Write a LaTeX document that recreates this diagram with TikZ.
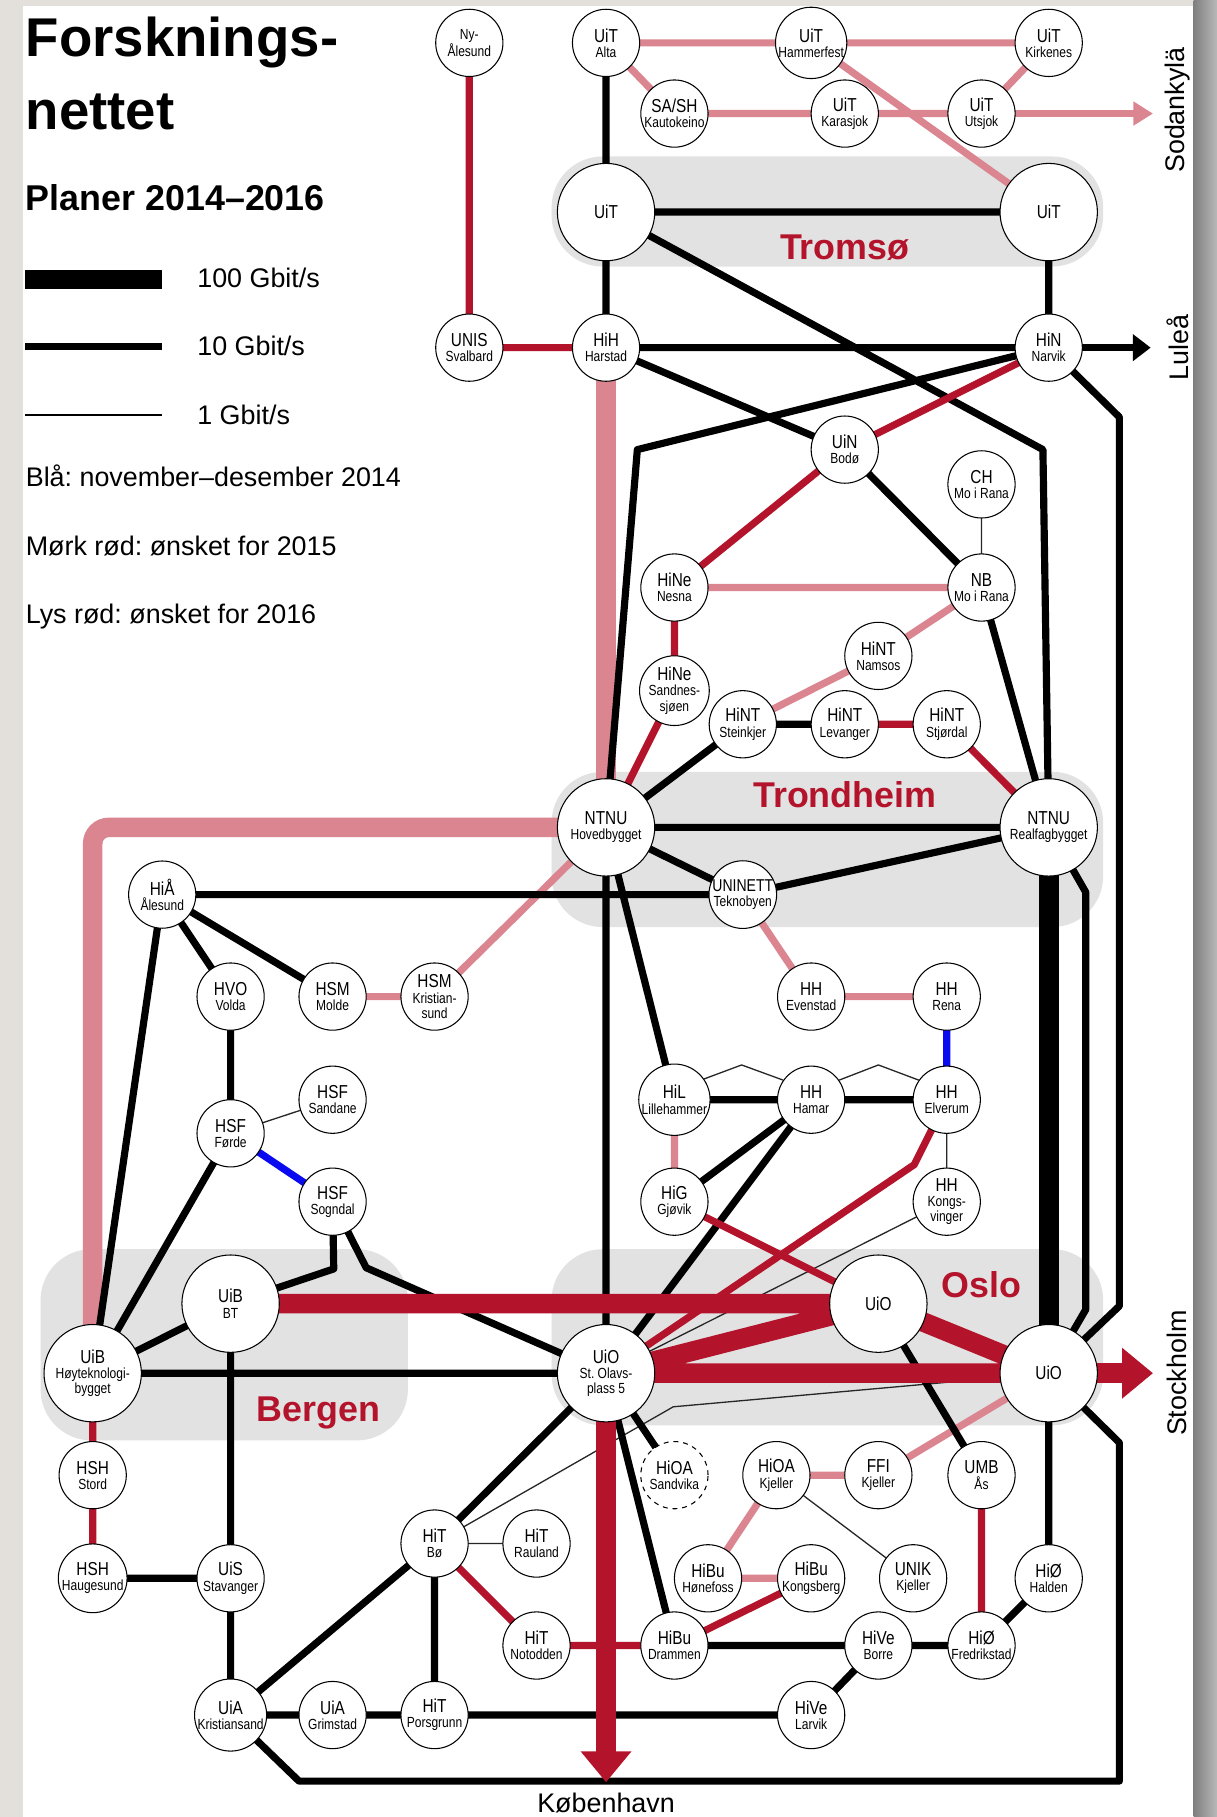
\documentclass[tikz,border=0pt]{standalone}
\usepackage{fontspec}
\setmainfont{Liberation Sans}
\newfontfamily\nodefont[FakeStretch=0.82]{Liberation Sans}
\usetikzlibrary{arrows.meta}
\definecolor{darkred}{HTML}{B4142B}
\definecolor{lightred}{HTML}{DB8590}
\definecolor{zone}{HTML}{E2E2E2}
\definecolor{netblue}{HTML}{0A0AF0}
\definecolor{margin}{HTML}{E3E0DC}
\newcommand{\lbl}[2]{{\fontsize{11.5}{11}\selectfont #1}\\#2}
\pgfdeclarelayer{zones}
\pgfdeclarelayer{links}
\pgfsetlayers{zones,links,main}
\frenchspacing

\begin{document}
\begin{tikzpicture}[x=0.025cm,y=-0.025cm,
  site/.style={circle,draw,line width=0.65pt,fill=white,minimum size=1.45cm,inner sep=0pt,
    align=center,font=\nodefont\fontsize{9}{9.3}\selectfont},
  hub/.style={site,minimum size=2.1cm},
  g100/.style={line width=12pt},
  g10/.style={line width=4.4pt,line join=round},
  g1/.style={line width=0.8pt,black!85},
  zonebox/.style={fill=zone,rounded corners=1.1cm},
  city/.style={anchor=base,text=darkred,font=\fontsize{22}{22}\selectfont\bfseries},
  legendtext/.style={anchor=base west,inner sep=0pt,font=\fontsize{16.5}{16.5}\selectfont},
  sidetext/.style={rotate=90,font=\fontsize{16.5}{16.5}\selectfont}]
  \useasboundingbox (0,0) rectangle (1050,1568);

  % page and city zones
  \begin{pgfonlayer}{zones}
    \fill[margin] (0,0) rectangle (1050,1568);
    \fill[white] (20,5) rectangle (1030,1568);
    \shade[left color=black!50,right color=black!28] (1030,0) rectangle (1050,1568);
    \fill[zonebox] (476,135) rectangle (952,230);
    \fill[zonebox] (476,666) rectangle (952,800);
    \fill[zonebox] (35,1078) rectangle (352,1243);
    \fill[zonebox] (476,1078) rectangle (952,1230);
  \end{pgfonlayer}

  % title and legend
  \node[anchor=base west,inner sep=0pt,font=\fontsize{33.5}{33.5}\selectfont\bfseries] (titleA) at (22,49) {Forsknings-};
  \node[anchor=base west,inner sep=0pt,font=\fontsize{33.5}{33.5}\selectfont\bfseries] (titleB) at (22,112) {nettet};
  \node[anchor=base west,inner sep=0pt,font=\fontsize{22}{22}\selectfont\bfseries] (plans) at (22,182) {Planer 2014--2016};
  \draw[g100] (22,241) -- (140,241);
  \draw[g10] (22,299) -- (140,299);
  \draw[g1,black] (22,358) -- (140,358);
  \node[legendtext] (l100) at (170,248) {100 Gbit/s};
  \node[legendtext] (l10) at (170,307) {10 Gbit/s};
  \node[legendtext] (l1) at (170,366) {1 Gbit/s};
  \node[legendtext] (lblue) at (22,420) {Blå: november--desember 2014};
  \node[legendtext] (ldark) at (22,479) {Mørk rød: ønsket for 2015};
  \node[legendtext] (llight) at (22,538) {Lys rød: ønsket for 2016};

  % city names and exits
  \node[city] (tromso) at (729,224) {Tromsø};
  \node[city] (trondheim) at (729,697) {Trondheim};
  \node[city] (bergen) at (275,1227) {Bergen};
  \node[city] (oslo) at (847,1120) {Oslo};
  \node[sidetext] (sodanlbl) at (1016,95) {Sodankylä};
  \node[sidetext] (lulealbl) at (1016,300) {Luleå};
  \node[sidetext] (sthlmlbl) at (1016,1185) {Stockholm};
  \node[font=\fontsize{16.5}{16.5}\selectfont] (kbhlbl) at (523,1556) {København};

  \coordinate (sodan) at (995,98);
  \coordinate (lulea) at (993,300);
  \coordinate (sthlm) at (995,1185);
  \coordinate (kbh) at (523,1538);
  \coordinate (bendA) at (900,388);
  \coordinate (bendB) at (550,388);
  \coordinate (bendC) at (966,360);
  \coordinate (bendD) at (966,1127);
  \coordinate (bendE) at (937,770);
  \coordinate (bendF) at (937,1130);
  \coordinate (bendG) at (288,1095);
  \coordinate (bendH) at (316,1094);
  \coordinate (bendI) at (966,1245);
  \coordinate (bendJ) at (966,1537);
  \coordinate (bendK) at (258,1537);
  \coordinate (bendL) at (789,1005);
  \coordinate (thinbend) at (581,1214);
  \coordinate (roofA) at (640,919);
  \coordinate (roofB) at (758,919);
  \coordinate (pinkturn) at (80,714);

  % sites
  \node[site] (nyal) at (405,37) {Ny-\\Ålesund};
  \node[site] (alta) at (523,37) {\lbl{UiT}{Alta}};
  \node[site] (hamf) at (700,37) {\lbl{UiT}{Hammerfest}};
  \node[site] (kirk) at (905,37) {\lbl{UiT}{Kirkenes}};
  \node[site] (kaut) at (582,98) {\lbl{SA/SH}{Kautokeino}};
  \node[site] (kara) at (729,98) {\lbl{UiT}{Karasjok}};
  \node[site] (utsj) at (847,98) {\lbl{UiT}{Utsjok}};
  \node[hub] (tromA) at (523,183) {\fontsize{11.5}{11}\selectfont UiT};
  \node[hub] (tromB) at (905,183) {\fontsize{11.5}{11}\selectfont UiT};
  \node[site] (unis) at (405,300) {\lbl{UNIS}{Svalbard}};
  \node[site] (harst) at (523,300) {\lbl{HiH}{Harstad}};
  \node[site] (narv) at (905,300) {\lbl{HiN}{Narvik}};
  \node[site] (bodo) at (729,388) {\lbl{UiN}{Bodø}};
  \node[site] (chmo) at (847,418) {\lbl{CH}{Mo i Rana}};
  \node[site] (nesna) at (582,507) {\lbl{HiNe}{Nesna}};
  \node[site] (nbmo) at (847,507) {\lbl{NB}{Mo i Rana}};
  \node[site] (nams) at (758,566) {\lbl{HiNT}{Namsos}};
  \node[site] (sand) at (582,596) {\lbl{HiNe}{Sandnes-\\sjøen}};
  \node[site] (stei) at (641,625) {\lbl{HiNT}{Steinkjer}};
  \node[site] (leva) at (729,625) {\lbl{HiNT}{Levanger}};
  \node[site] (stjo) at (817,625) {\lbl{HiNT}{Stjørdal}};
  \node[hub] (ntnuH) at (523,714) {\lbl{NTNU}{Hovedbygget}};
  \node[hub] (ntnuR) at (905,714) {\lbl{NTNU}{Realfagbygget}};
  \node[site] (unin) at (641,772) {{\fontsize{10.5}{10.5}\selectfont UNINETT}\\Teknobyen};
  \node[site] (hiaa) at (140,772) {\lbl{HiÅ}{Ålesund}};
  \node[site] (volda) at (199,860) {\lbl{HVO}{Volda}};
  \node[site] (molde) at (287,860) {\lbl{HSM}{Molde}};
  \node[site] (krsu) at (375,860) {\lbl{HSM}{Kristian-\\sund}};
  \node[site] (even) at (700,860) {\lbl{HH}{Evenstad}};
  \node[site] (rena) at (817,860) {\lbl{HH}{Rena}};
  \node[site] (sdne) at (287,949) {\lbl{HSF}{Sandane}};
  \node[site] (forde) at (199,978) {\lbl{HSF}{Førde}};
  \node[site] (lilh) at (582,949) {\lbl{HiL}{Lillehammer}};
  \node[site] (hamar) at (700,949) {\lbl{HH}{Hamar}};
  \node[site] (elve) at (817,949) {\lbl{HH}{Elverum}};
  \node[site] (sogn) at (287,1037) {\lbl{HSF}{Sogndal}};
  \node[site] (gjov) at (582,1037) {\lbl{HiG}{Gjøvik}};
  \node[site] (kong) at (817,1037) {\lbl{HH}{Kongs-\\vinger}};
  \node[hub] (uibBT) at (199,1125) {\lbl{UiB}{BT}};
  \node[hub] (uioC) at (758,1125) {\fontsize{11.5}{11}\selectfont UiO};
  \node[hub] (uibH) at (80,1185) {\lbl{UiB}{Høyteknologi-\\bygget}};
  \node[hub] (uioS) at (523,1185) {\lbl{UiO}{St. Olavs-\\plass 5}};
  \node[hub] (uioR) at (905,1185) {\fontsize{11.5}{11}\selectfont UiO};
  \node[site] (stord) at (80,1273) {\lbl{HSH}{Stord}};
  \node[site,dashed] (svka) at (582,1273) {\lbl{HiOA}{Sandvika}};
  \node[site] (hioak) at (670,1273) {\lbl{HiOA}{Kjeller}};
  \node[site] (ffi) at (758,1273) {\lbl{FFI}{Kjeller}};
  \node[site] (umb) at (847,1273) {\lbl{UMB}{Ås}};
  \node[site] (hbo) at (375,1332) {\lbl{HiT}{Bø}};
  \node[site] (raul) at (463,1332) {\lbl{HiT}{Rauland}};
  \node[site] (haug) at (80,1362) {\lbl{HSH}{Haugesund}};
  \node[site] (stav) at (199,1362) {\lbl{UiS}{Stavanger}};
  \node[site] (hone) at (611,1362) {\lbl{HiBu}{Hønefoss}};
  \node[site] (kgsb) at (700,1362) {\lbl{HiBu}{Kongsberg}};
  \node[site] (unik) at (788,1362) {\lbl{UNIK}{Kjeller}};
  \node[site] (hald) at (905,1362) {\lbl{HiØ}{Halden}};
  \node[site] (noto) at (463,1420) {\lbl{HiT}{Notodden}};
  \node[site] (dram) at (582,1420) {\lbl{HiBu}{Drammen}};
  \node[site] (borre) at (758,1420) {\lbl{HiVe}{Borre}};
  \node[site] (fred) at (847,1420) {\lbl{HiØ}{Fredrikstad}};
  \node[site] (krsa) at (199,1480) {\lbl{UiA}{Kristiansand}};
  \node[site] (grim) at (287,1480) {\lbl{UiA}{Grimstad}};
  \node[site] (porsg) at (375,1480) {\lbl{HiT}{Porsgrunn}};
  \node[site] (larv) at (700,1480) {\lbl{HiVe}{Larvik}};

  \begin{pgfonlayer}{links}
    % light red: 2016
    \draw[g10,lightred] (alta.center) -- (hamf.center) -- (kirk.center)
      (alta.center) -- (kaut.center) -- (kara.center) -- (utsj.center)
      (kirk.center) -- (utsj.center)
      (hamf.center) -- (tromB.center)
      (nesna.center) -- (nbmo.center) -- (nams.center) -- (stei.center)
      (molde.center) -- (krsu.center) -- (ntnuH.center)
      (unin.center) -- (even.center) -- (rena.center)
      (lilh.center) -- (gjov.center)
      (hone.center) -- (hioak.center) -- (ffi.center) -- (uioR.center)
      (hone.center) -- (kgsb.center);
    \draw[g10,lightred,-{Triangle[length=12pt,width=14pt]}] (utsj.center) -- (sodan);
    \draw[g100,lightred] (harst.center) -- (ntnuH.center);
    \draw[g100,lightred,rounded corners=0.35cm] (ntnuH.center) -- (pinkturn) -- (uibH.center);
    % 1 Gbit/s
    \draw[g1] (chmo.center) -- (nbmo.center)
      (forde.center) -- (sdne.center)
      (elve.center) -- (kong.center) -- (uioS.center)
      (hbo.center) -- (raul.center)
      (hioak.center) -- (unik.center)
      (hbo.center) -- (thinbend) -- (uioR.center)
      (lilh.35) -- (roofA) -- (hamar.145)
      (hamar.35) -- (roofB) -- (elve.145);
    % blue: 2014
    \draw[g10,netblue] (forde.center) -- (sogn.center) (rena.center) -- (elve.center);
    % 10 Gbit/s
    \draw[g10] (alta.center) -- (tromA.center) -- (harst.center) -- (narv.center) -- (tromB.center) -- (tromA.center)
      (tromA.center) -- (bendA) -- (ntnuR.center)
      (harst.center) -- (bodo.center) -- (nbmo.center) -- (ntnuR.center)
      (narv.center) -- (bendB) -- (ntnuH.center)
      (narv.center) -- (bendC) -- (bendD) -- (uioR.center)
      (ntnuR.center) -- (bendE) -- (bendF) -- (uioR.center)
      (stei.center) -- (leva.center)
      (stei.center) -- (ntnuH.center) -- (ntnuR.center)
      (ntnuH.center) -- (unin.center) -- (ntnuR.center)
      (hiaa.center) -- (unin.center)
      (ntnuH.center) -- (uioS.center)
      (ntnuH.center) -- (lilh.center) -- (hamar.center) -- (elve.center)
      (hamar.center) -- (gjov.center)
      (hamar.center) -- (uioS.center)
      (hiaa.center) -- (volda.center) -- (forde.center) -- (uibH.center)
      (hiaa.center) -- (molde.center)
      (hiaa.center) -- (uibH.center) -- (uibBT.center)
      (sogn.center) -- (bendG) -- (uibBT.center)
      (sogn.center) -- (bendH) -- (uioS.center)
      (uibH.center) -- (uioS.center)
      (uibBT.center) -- (stav.center) -- (krsa.center) -- (grim.center) -- (porsg.center) -- (larv.center)
        -- (borre.center) -- (fred.center) -- (hald.center) -- (uioR.center)
      (haug.center) -- (stav.center)
      (krsa.center) -- (hbo.center) -- (uioS.center)
      (hbo.center) -- (porsg.center)
      (uioS.center) -- (svka.center)
      (uioS.center) -- (dram.center) -- (borre.center)
      (uioC.center) -- (umb.center)
      (uioR.center) -- (bendI) -- (bendJ) -- (bendK) -- (krsa.center);
    \draw[g10,-{Triangle[length=11pt,width=16pt]}] (narv.center) -- (lulea);
    % dark red: 2015
    \draw[g10,darkred] (nyal.center) -- (unis.center) -- (harst.center)
      (narv.center) -- (bodo.center) -- (nesna.center) -- (sand.center) -- (ntnuH.center)
      (leva.center) -- (stjo.center) -- (ntnuR.center)
      (elve.center) -- (bendL) -- (uioS.center)
      (gjov.center) -- (uioC.center)
      (uibH.center) -- (stord.center) -- (haug.center)
      (hbo.center) -- (noto.center) -- (dram.center) -- (kgsb.center)
      (umb.center) -- (fred.center);
    % 100 Gbit/s
    \draw[g100] (ntnuR.center) -- (uioR.center);
    \draw[g100,darkred] (uibBT.center) -- (uioC.center)
      (uioS.center) -- (uioC.center)
      (uioS.center) -- (uioR.center)
      (uioC.center) -- (uioR.center);
    \draw[g100,darkred,-{Triangle[length=19pt,width=30pt]}] (uioR.center) -- (sthlm);
    \draw[g100,darkred,-{Triangle[length=19pt,width=30pt]}] (uioS.center) -- (kbh);
  \end{pgfonlayer}
\end{tikzpicture}
\end{document}
